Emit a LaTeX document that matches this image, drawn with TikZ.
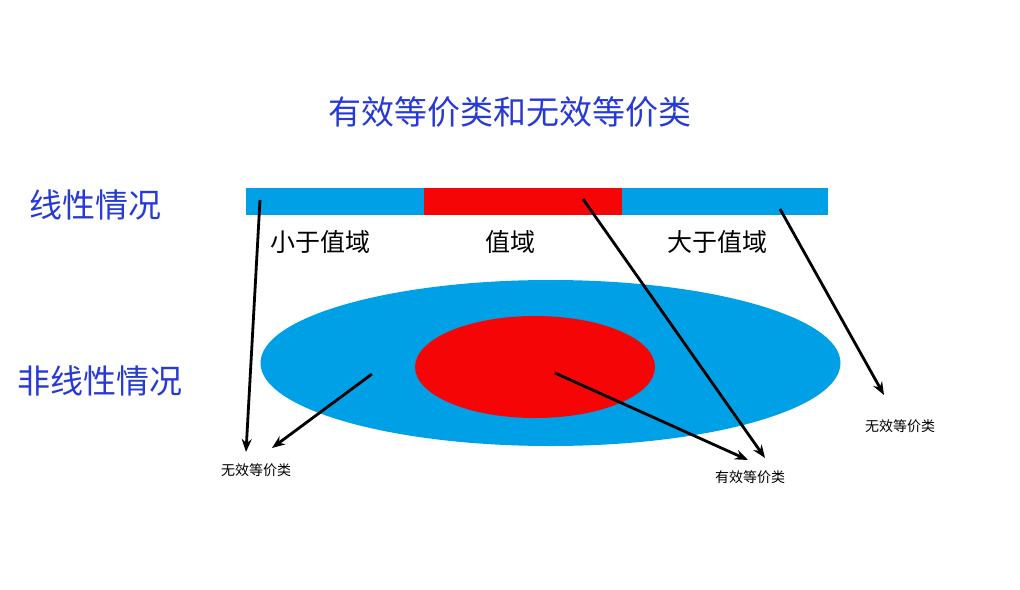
\documentclass[tikz,border=0pt]{standalone}
\usepackage{fontspec}
\setmainfont{Noto Sans CJK SC}
\usetikzlibrary{arrows.meta}
\definecolor{ttl}{RGB}{40,58,214}
\definecolor{bl}{RGB}{0,160,230}
\definecolor{rd}{RGB}{245,5,5}
\tikzset{
  ttltxt/.style={text=ttl, font=\fontsize{33}{33}\selectfont, inner sep=0pt},
  segtxt/.style={text=black, font=\fontsize{25}{25}\selectfont, inner sep=0pt},
  small/.style={text=black, font=\fontsize{14}{14}\selectfont, inner sep=0pt},
  arr/.style={-{Stealth[length=13pt,width=10pt]}, line width=2.8pt, black},
}
\begin{document}
\begin{tikzpicture}[x=1pt,y=-1pt]
\useasboundingbox (0,0) rectangle (1020,589);
% title
\node[ttltxt] (title) at (510,112) {有效等价类和无效等价类};
\node[ttltxt] (lin) at (95,205) {线性情况};
\node[ttltxt] (nonlin) at (100,381) {非线性情况};
% bar
\fill[bl] (246,188) rectangle (424,215);
\fill[rd] (424,188) rectangle (622,215);
\fill[bl] (622,188) rectangle (828,215);
\node[segtxt] (lt) at (320,242) {小于值域};
\node[segtxt] (rng) at (510,242) {值域};
\node[segtxt] (gt) at (717,242) {大于值域};
% ellipses
\fill[bl] (550.5,363) ellipse [x radius=290, y radius=83];
\fill[rd] (535,367) ellipse [x radius=120, y radius=51];
% small labels
\node[small] (inv1) at (256,470) {无效等价类};
\node[small] (val) at (750,477) {有效等价类};
\node[small] (inv2) at (900,426) {无效等价类};
% arrow coordinates
\coordinate (s1) at (260,200);
\coordinate (e1) at (246,452);
\coordinate (s2) at (372,374);
\coordinate (e2) at (272,448);
\coordinate (s3) at (583,199);
\coordinate (e3) at (765,458);
\coordinate (s4) at (555,373);
\coordinate (e4) at (748,460);
\coordinate (s5) at (780,209);
\coordinate (e5) at (884,395);
\draw[arr] (s1) -- (e1);
\draw[arr] (s2) -- (e2);
\draw[arr] (s3) -- (e3);
\draw[arr] (s4) -- (e4);
\draw[arr] (s5) -- (e5);
\end{tikzpicture}
\end{document}
